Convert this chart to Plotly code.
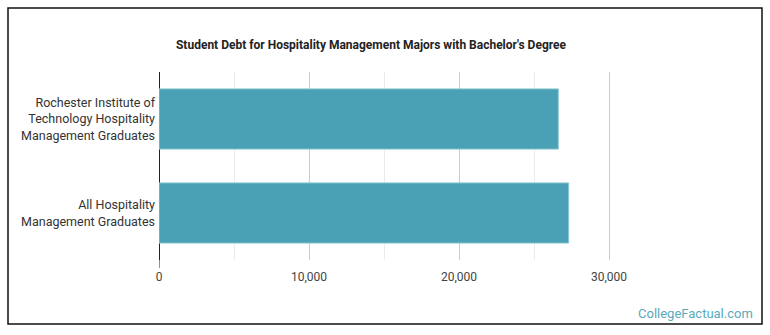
import plotly.graph_objects as go

categories = ["Rochester Institute of<br>Technology Hospitality<br>Management Graduates",
              "All Hospitality<br>Management Graduates"]
debt = [26620, 27310]
tick_vals = [0, 10000, 20000, 30000]
tick_text = ["0", "10,000", "20,000", "30,000"]

W, H = 770, 335
L, R, T, B = 159, 684, 72, 260

def px(x):
    return (x - L) / (R - L)

def py(y):
    return (B - y) / (B - T)

fig = go.Figure(go.Bar(
    y=categories, x=debt, orientation="h",
    marker=dict(color="#4aa0b4", line=dict(color="#8cc6d2", width=1)),
    width=0.64,
))

fig.update_layout(
    width=W, height=H,
    margin=dict(l=L, r=W - R, t=T, b=H - B),
    paper_bgcolor="white", plot_bgcolor="white",
    showlegend=False,
    font=dict(family="Roboto", color="#333"),
    title=dict(text="<b>Student Debt for Hospitality Management Majors with Bachelor's Degree</b>",
               x=371 / W, xanchor="center", y=1 - 45 / H, yanchor="middle",
               font=dict(family="Roboto", size=12, color="#222")),
    xaxis=dict(range=[0, 35000], tickvals=tick_vals, ticktext=tick_text,
               showgrid=True, gridcolor="#cccccc", gridwidth=1,
               minor=dict(dtick=5000, tick0=0, showgrid=True, gridcolor="#ebebeb"),
               zeroline=True, zerolinecolor="#222", zerolinewidth=1,
               showline=False, ticks="", ticklabelstandoff=8,
               tickfont=dict(family="Roboto", size=12, color="#444"), fixedrange=True),
    yaxis=dict(autorange="reversed", showgrid=False, zeroline=False, ticks="",
               ticklabelstandoff=3,
               tickfont=dict(family="Roboto", size=12.5, color="#333"), fixedrange=True),
    shapes=[
        dict(type="rect", xref="paper", yref="paper",
             x0=px(8), x1=px(762), y0=py(324), y1=py(8),
             line=dict(color="#111", width=1.5), fillcolor="rgba(0,0,0,0)", layer="below"),
        dict(type="line", xref="x", yref="paper", x0=0, x1=0, y0=py(268), y1=0,
             line=dict(color="#222", width=1)),
    ],
    annotations=[
        dict(text="CollegeFactual.com", xref="paper", yref="paper",
             x=px(755), y=py(313), xanchor="right", yanchor="middle", showarrow=False,
             font=dict(family="Roboto", size=13, color="#5aaabb")),
    ],
)

fig.write_html("out.html")
